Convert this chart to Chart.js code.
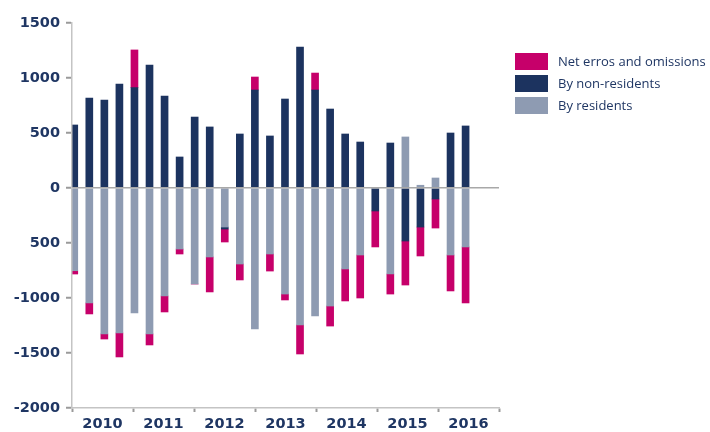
<!DOCTYPE html>
<html>
<head>
<meta charset="utf-8">
<script src="https://cdn.jsdelivr.net/npm/chart.js@4"></script>
<style>
html,body{margin:0;padding:0;background:#fff;}
#wrap{position:relative;width:710px;height:432px;}
</style>
</head>
<body>
<div id="wrap"><canvas id="c" width="710" height="432"></canvas></div>
<script>
// Quarters 2010Q1 .. 2016Q3
const categories = ['2010Q1','2010Q2','2010Q3','2010Q4','2011Q1','2011Q2','2011Q3','2011Q4',
  '2012Q1','2012Q2','2012Q3','2012Q4','2013Q1','2013Q2','2013Q3','2013Q4',
  '2014Q1','2014Q2','2014Q3','2014Q4','2015Q1','2015Q2','2015Q3','2015Q4',
  '2016Q1','2016Q2','2016Q3'];
const years = ['2010','2011','2012','2013','2014','2015','2016'];
const byResidents = [-752,-1045,-1327,-1318,-1136,-1327,-982,-555,
  -873,-627,-355,-691,-1282,-600,-964,-1245,
  -1164,-1073,-736,-609,0,-782,464,25,
  91,-609,-536];
const byNonResidents = [573,818,800,945,912,1118,836,282,
  645,555,-18,491,891,473,809,1282,
  891,718,491,418,-209,409,-482,-355,
  -100,500,564];
const netErrors = [-30,-100,-46,-218,343,-100,-145,-45,
  0,-318,-118,-145,118,-155,-54,-264,
  154,-182,-291,-391,-327,-182,-400,-263,
  -264,-327,-509];
const tickValues = [1500,1000,500,0,-500,-1000,-1500,-2000];
const tickLabels = ['1500','1000','500','0','500','-1000','-1500','-2000'];

const NAVY = '#1c335f';
const GRAY = '#8e9bb2';
const PINK = '#c6006a';
const TEXT = '#1f3663';
const AXIS = '#c4c4c4';
const TICK = '#9a9a9a';

const pts = arr => arr.map((v, i) => ({x: i, y: v}));

// Legend drawn on the canvas from the chart's own legend items
const sideLegend = {
  id: 'sideLegend',
  afterDraw(chart, args, o) {
    const ctx = chart.ctx;
    const items = Chart.defaults.plugins.legend.labels.generateLabels(chart).reverse();
    ctx.save();
    ctx.font = o.font;
    ctx.textBaseline = 'middle';
    ctx.textAlign = 'left';
    items.forEach((it, k) => {
      const y = o.top + k * o.step;
      ctx.fillStyle = it.fillStyle;
      ctx.fillRect(o.left, y, o.boxW, o.boxH);
      ctx.fillStyle = o.color;
      ctx.fillText(it.text, o.left + o.boxW + o.gap, y + o.boxH / 2 + 0.5);
    });
    ctx.restore();
  }
};

new Chart(document.getElementById('c'), {
  type: 'bar',
  data: {
    datasets: [
      {label: 'By residents', data: pts(byResidents), backgroundColor: GRAY, stack: 's', barThickness: 7},
      {label: 'By non-residents', data: pts(byNonResidents), backgroundColor: NAVY, stack: 's', barThickness: 7},
      {label: 'Net erros and omissions', data: pts(netErrors), backgroundColor: PINK, stack: 's', barThickness: 7}
    ]
  },
  plugins: [sideLegend],
  options: {
    responsive: false,
    animation: false,
    layout: {padding: {top: 23, left: 0, right: 211, bottom: 0}},
    plugins: {
      tooltip: {enabled: false},
      legend: {display: false},
      sideLegend: {left: 515, top: 53, step: 22, boxW: 33, boxH: 17, gap: 10,
        color: TEXT, font: '13px "Open Sans"'}
    },
    scales: {
      x: {
        type: 'linear',
        display: false,
        offset: false,
        grid: {offset: false},
        bounds: 'data',
        min: -0.15,
        max: 28.22
      },
      x2: {
        type: 'category',
        labels: years,
        position: 'bottom',
        offset: true,
        grid: {offset: true, drawOnChartArea: false, drawTicks: true, tickLength: 4, tickWidth: 2, tickColor: TICK},
        border: {color: AXIS, width: 1.5},
        ticks: {color: TEXT, padding: 4, font: {family: 'DejaVu Sans', size: 14.5, weight: 'bold'}, maxRotation: 0},
        afterFit: s => { s.height = 24; }
      },
      y: {
        stacked: true,
        min: -2000, max: 1500,
        position: 'left',
        grid: {
          z: 1,
          color: c => (c.tick && c.tick.value === 0) ? '#a8a8a8' : 'rgba(0,0,0,0)',
          lineWidth: 1.5,
          drawTicks: true, tickLength: 6, tickWidth: 2, tickColor: TICK
        },
        border: {color: AXIS, width: 1.5, z: 1},
        ticks: {
          stepSize: 500,
          padding: 6,
          color: TEXT,
          font: {family: 'DejaVu Sans', size: 14.5, weight: 'bold'},
          callback: v => { const k = tickValues.indexOf(v); return k >= 0 ? tickLabels[k] : ''; }
        },
        afterFit: s => { s.width = 72; }
      }
    }
  }
});
</script>
</body>
</html>
